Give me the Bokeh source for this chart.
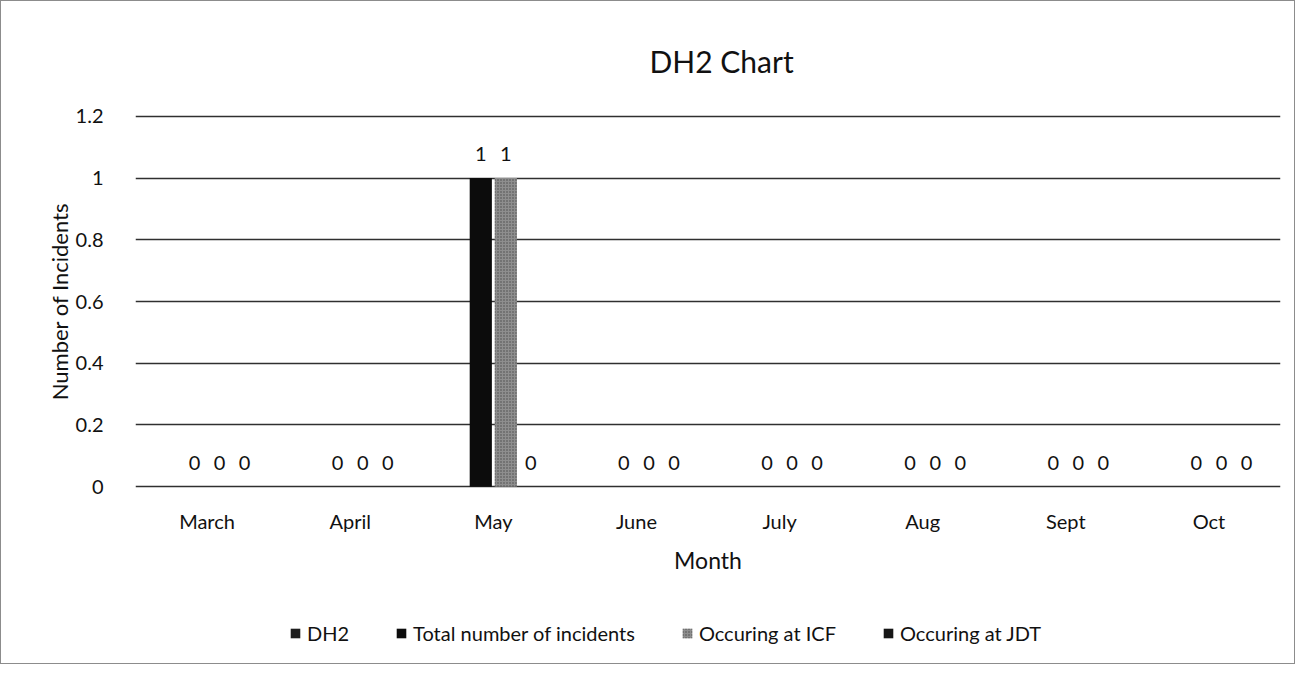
from bokeh.plotting import figure
from bokeh.layouts import column
from bokeh.models import ColumnDataSource, Range1d, FactorRange, FixedTicker, Legend, LegendItem
from bokeh.transform import dodge
from bokeh.embed import file_html
from bokeh.resources import INLINE

# ---- data ----
months = ["March", "April", "May", "June", "July", "Aug", "Sept", "Oct"]
dh2 = [None, None, None, None, None, None, None, None]  # series in legend only (no values)
total_incidents = [0, 0, 1, 0, 0, 0, 0, 0]
occurring_icf = [0, 0, 1, 0, 0, 0, 0, 0]
occurring_jdt = [0, 0, 0, 0, 0, 0, 0, 0]
series_names = ["DH2", "Total number of incidents", "Occuring at ICF", "Occuring at JDT"]
y_ticks = [0, 0.2, 0.4, 0.6, 0.8, 1, 1.2]
y_tick_labels = ["0", "0.2", "0.4", "0.6", "0.8", "1", "1.2"]

FONT = "Lato"
W = 1293

p = figure(
    x_range=FactorRange(*months), y_range=Range1d(-0.006, 1.206),
    width=W, height=600, output_backend="svg", toolbar_location=None,
    min_border_left=134, min_border_right=14, min_border_top=113, min_border_bottom=113,
)

p.title.text = "DH2 Chart"
p.title.align = "left"
p.title.text_font = FONT
p.title.text_font_size = "30px"
p.title.text_font_style = "normal"
p.title.text_color = "#111111"
p.title.standoff = 71
p.title.offset = 514

p.outline_line_color = None
p.xgrid.grid_line_color = None
p.ygrid.grid_line_color = "#303030"
p.ygrid.grid_line_width = 1.7

p.yaxis.ticker = FixedTicker(ticks=y_ticks)
p.yaxis.major_label_overrides = {t: l for t, l in zip(y_ticks, y_tick_labels)}
p.yaxis.axis_line_color = None
p.yaxis.major_tick_line_color = None
p.yaxis.minor_tick_line_color = None
p.yaxis.major_label_standoff = 26
p.yaxis.major_label_text_font = FONT
p.yaxis.major_label_text_font_size = "20px"
p.yaxis.major_label_text_color = "#111111"
p.yaxis.axis_label = "Number of Incidents"
p.yaxis.axis_label_text_font = FONT
p.yaxis.axis_label_text_font_size = "22px"
p.yaxis.axis_label_text_font_style = "normal"
p.yaxis.axis_label_text_color = "#111111"
p.yaxis.axis_label_standoff = 0

p.xaxis.axis_line_color = None
p.xaxis.major_tick_line_color = None
p.xaxis.minor_tick_line_color = None
p.xaxis.major_label_standoff = 14
p.xaxis.major_label_text_font = FONT
p.xaxis.major_label_text_font_size = "20px"
p.xaxis.major_label_text_color = "#111111"
p.xaxis.axis_label = "Month"
p.xaxis.axis_label_text_font = FONT
p.xaxis.axis_label_text_font_size = "23px"
p.xaxis.axis_label_text_font_style = "normal"
p.xaxis.axis_label_text_color = "#111111"
p.xaxis.axis_label_standoff = 10

src = ColumnDataSource(dict(month=months, dh2=[float("nan") if v is None else v for v in dh2],
                            total=total_incidents, icf=occurring_icf, jdt=occurring_jdt,
                            total_s=[str(v) for v in total_incidents],
                            icf_s=[str(v) for v in occurring_icf],
                            jdt_s=[str(v) for v in occurring_jdt]))

styles = {
    "dh2": dict(fill_color="#1e1e1e", line_color=None),
    "total": dict(fill_color="#0c0c0c", line_color=None),
    "icf": dict(fill_color="#8e8e8e", line_color=None, hatch_pattern="dot",
                hatch_color="#3a3a3a", hatch_scale=3, hatch_alpha=0.8),
    "jdt": dict(fill_color="#161616", line_color=None),
}
cols = ["dh2", "total", "icf", "jdt"]
slot = 0.175
bw = 0.155
for i, c in enumerate(cols):
    p.vbar(x=dodge("month", (i - 1.5) * slot, range=p.x_range), top=c, width=bw, source=src, **styles[c])

for i, c in enumerate(cols[1:], start=1):
    p.text(x=dodge("month", (i - 1.5) * slot, range=p.x_range), y=c, text=c + "_s", source=src,
           text_align="center", text_baseline="bottom", y_offset=-17,
           text_font_size="20px", text_font={"value": FONT}, text_color="#111111")

# legend strip below the chart (its glyphs sit outside its visible range)
pl = figure(width=W, height=62, x_range=FactorRange(*months), y_range=Range1d(10, 11),
            x_axis_type=None, y_axis_type=None, toolbar_location=None, output_backend="svg",
            min_border=0, outline_line_color=None)
pl.grid.visible = False
leg_r = [pl.vbar(x="month", top=c, width=bw, source=src, **styles[c]) for c in cols]
legend = Legend(items=[LegendItem(label=n, renderers=[r], index=2) for n, r in zip(series_names, leg_r)],
                orientation="horizontal", location=(154, 18), border_line_color=None,
                background_fill_alpha=0, label_text_font=FONT, label_text_font_size="20px",
                label_text_color="#111111", glyph_width=12, glyph_height=12,
                label_standoff=6, spacing=46, padding=4, margin=0)
pl.add_layout(legend, "center")

layout = column(p, pl, spacing=0, styles={"border": "1px solid #8c8c8c"})
open("out.html", "w").write(file_html(layout, INLINE))
